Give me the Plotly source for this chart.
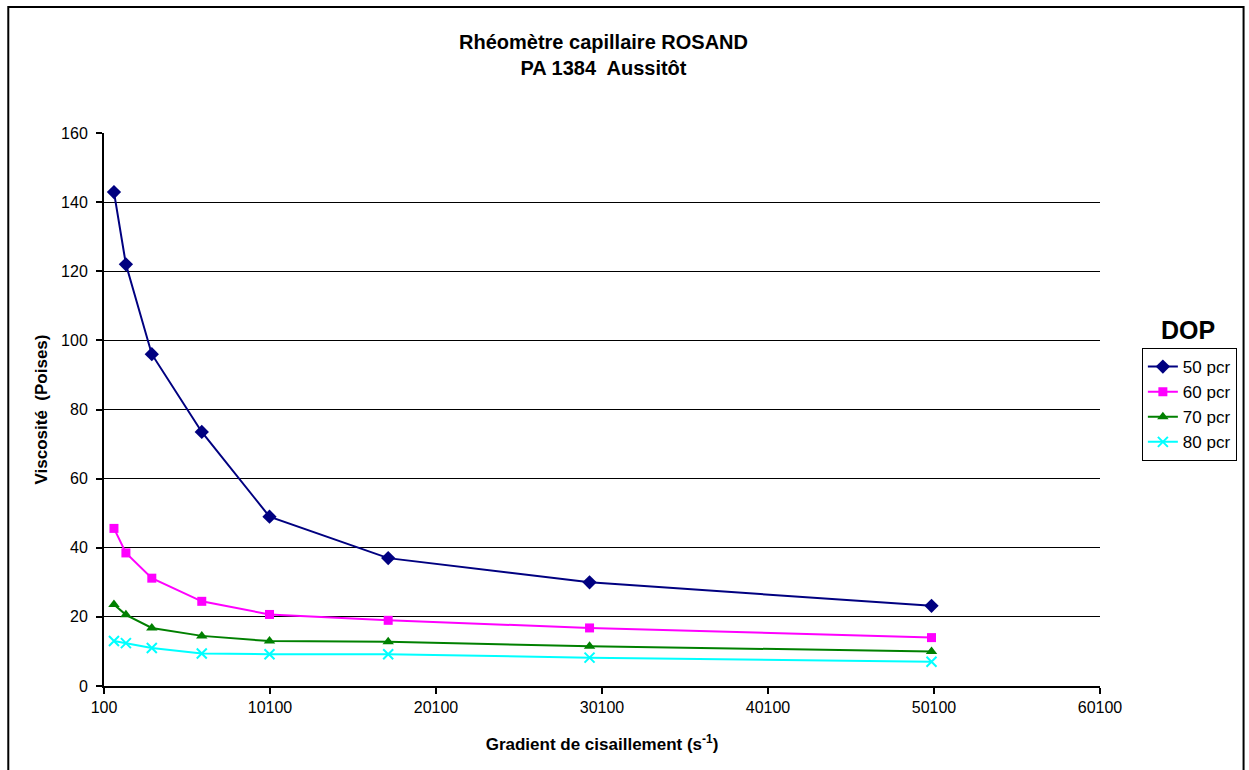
import plotly.graph_objects as go

shear_rate = [700, 1420, 2980, 5990, 10070, 17220, 29350, 49950]
visc_50 = [142.9, 122.0, 96.0, 73.5, 49.0, 37.0, 30.0, 23.2]
visc_60 = [45.6, 38.5, 31.2, 24.5, 20.7, 19.0, 16.8, 14.0]
visc_70 = [23.6, 20.6, 16.8, 14.5, 13.0, 12.8, 11.5, 10.0]
visc_80 = [13.0, 12.4, 11.0, 9.4, 9.2, 9.2, 8.2, 7.0]
series_names = ["50 pcr", "60 pcr", "70 pcr", "80 pcr"]
x_ticks = [100, 10100, 20100, 30100, 40100, 50100, 60100]
y_ticks = [0, 20, 40, 60, 80, 100, 120, 140, 160]

styles = [
    dict(color="#000080", symbol="diamond", size=11),
    dict(color="#FF00FF", symbol="square", size=9),
    dict(color="#008000", symbol="triangle-up", size=10),
    dict(color="#00FFFF", symbol="x-thin", size=10),
]

W, H = 1249, 770
ML, MR, MT, MB = 104, 146, 133, 84
PW, PH = W - ML - MR, H - MT - MB


def px_x(sx):
    return (sx - ML) / PW


def px_y(sy):
    return (H - MB - sy) / PH


fig = go.Figure()
for name, vals, st in zip(series_names, [visc_50, visc_60, visc_70, visc_80], styles):
    marker = dict(symbol=st["symbol"], size=st["size"], color=st["color"])
    if st["symbol"] == "x-thin":
        marker["line"] = dict(color=st["color"], width=2)
    fig.add_trace(go.Scatter(
        x=shear_rate, y=vals, name=name, mode="lines+markers",
        line=dict(color=st["color"], width=2), marker=marker,
        legendgroup=name,
    ))

font_family = "Liberation Sans, Arial, sans-serif"
fig.update_layout(
    width=W, height=H,
    paper_bgcolor="white", plot_bgcolor="white",
    margin=dict(l=ML, r=MR, t=MT, b=MB),
    font=dict(family=font_family, color="black", size=16),
    xaxis=dict(
        range=[100, 60100], tickvals=x_ticks, ticktext=[str(v) for v in x_ticks],
        showgrid=False, zeroline=False, showline=True, linecolor="black", linewidth=2,
        ticks="outside", ticklen=6, tickcolor="black", tickwidth=2,
        tickfont=dict(size=16),
        title=dict(text="<b>Gradient de cisaillement (s<sup>-1</sup>)</b>", font=dict(size=17), standoff=23),
    ),
    yaxis=dict(
        range=[0, 160], tickvals=y_ticks, showgrid=True, gridcolor="black", gridwidth=1,
        zeroline=False, showline=True, linecolor="black", linewidth=2,
        ticks="outside", ticklen=6, tickcolor="black", tickwidth=2,
        tickfont=dict(size=16), ticklabelstandoff=5,
        title=dict(text="<b>Viscosité  (Poises)</b>", font=dict(size=17), standoff=9),
    ),
    legend=dict(
        x=px_x(1145), xanchor="left", y=px_y(348), yanchor="top",
        bordercolor="black", borderwidth=1, bgcolor="white",
        font=dict(size=17), tracegroupgap=0, itemwidth=30,
    ),
    showlegend=True,
)

fig.add_annotation(
    text="<b>Rhéomètre capillaire ROSAND<br>PA 1384  Aussitôt</b>",
    xref="paper", yref="paper", x=px_x(605), y=px_y(55),
    xanchor="center", yanchor="middle", showarrow=False,
    font=dict(size=20, family=font_family),
)

fig.add_annotation(
    text="<b>DOP</b>", xref="paper", yref="paper",
    x=px_x(1191), y=px_y(330), xanchor="center", yanchor="middle",
    showarrow=False, font=dict(size=25, family=font_family),
)

fig.add_shape(
    type="rect", xref="paper", yref="paper",
    x0=px_x(8), x1=px_x(1247),
    y0=px_y(800), y1=px_y(7),
    line=dict(color="black", width=2), fillcolor="rgba(0,0,0,0)", layer="below",
)

fig.write_html(
    "out.html",
    config={"displayModeBar": False},
    post_script="document.body.style.margin='0';",
)
